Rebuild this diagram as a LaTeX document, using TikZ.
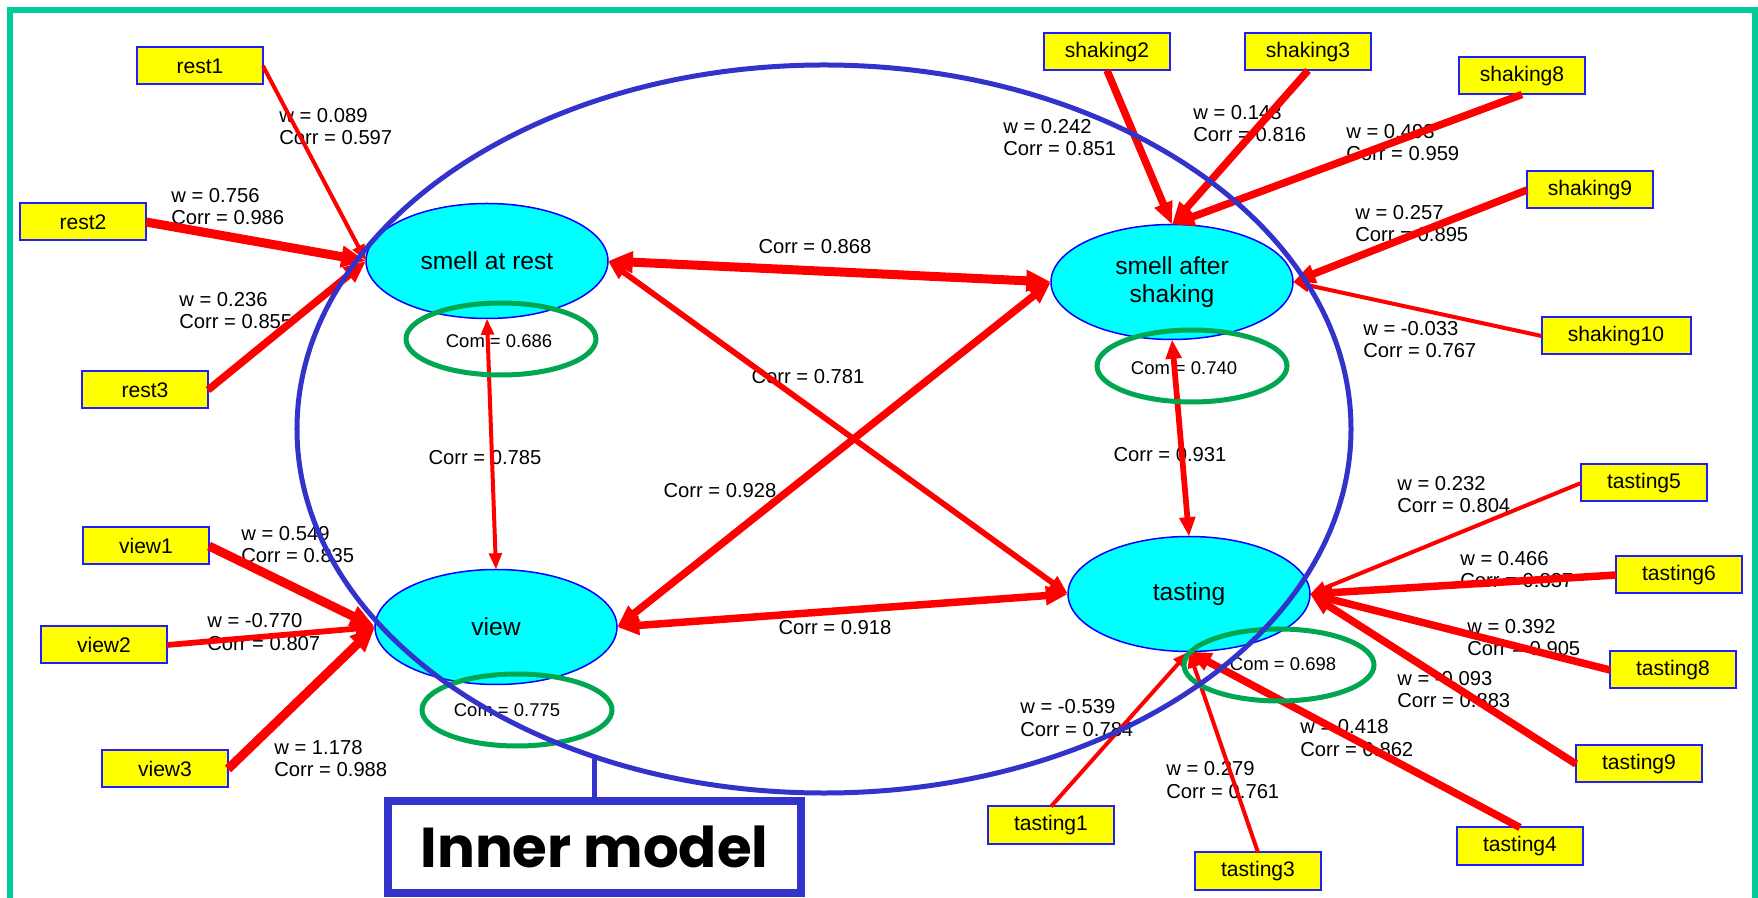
\documentclass[tikz,border=0pt]{standalone}
\usepackage{fontspec}
\setmainfont{Liberation Sans}
\newfontfamily\handfont{Poppins}
\usetikzlibrary{arrows.meta,shapes.geometric}
\definecolor{framegreen}{RGB}{0,204,153}
\definecolor{ringgreen}{RGB}{0,166,80}
\definecolor{modelblue}{RGB}{51,51,204}
\definecolor{boxblue}{RGB}{30,30,255}
\definecolor{lvcyan}{RGB}{0,255,255}
\definecolor{mvyellow}{RGB}{255,255,0}

\begin{document}
\begin{tikzpicture}[x=0.2mm,y=-0.2mm,>={Triangle[length=1.9mm 1.7,width=1.2mm 1.6]},
  mv/.style={draw=boxblue,line width=0.4mm,fill=mvyellow,minimum width=25.2mm,minimum height=7.4mm,
    inner sep=0pt,outer sep=0pt,font=\fontsize{12}{14}\selectfont},
  lv/.style={ellipse,draw=blue,line width=0.3mm,fill=lvcyan,minimum width=48.4mm,minimum height=23mm,
    inner sep=0pt,outer sep=0pt,align=center,font=\fontsize{14}{16}\selectfont},
  wlab/.style={align=left,anchor=west,inner sep=0pt,font=\fontsize{11.5}{13}\selectfont},
  clab/.style={inner sep=0pt,font=\fontsize{11.5}{13}\selectfont},
  comlab/.style={inner sep=0pt,font=\fontsize{10.5}{12}\selectfont},
  ring/.style={ellipse,draw=ringgreen,line width=1mm,minimum width=38mm,minimum height=14.4mm,inner sep=0pt},
  wt1/.style={red,line width=0.8mm},
  wt2/.style={red,line width=1.15mm},
  wt3/.style={red,line width=1.5mm},
  wt4/.style={red,line width=1.8mm}]
  \clip (0,0) rectangle (1758,898);
  \draw[framegreen,line width=1.1mm] (10,10) rectangle (1755,940);

  \node[wlab] (lrest1) at (279,126.5) {w = 0.089\\Corr = 0.597};
  \node[wlab] (lrest2) at (171,206.5) {w = 0.756\\Corr = 0.986};
  \node[wlab] (lrest3) at (179,310.5) {w = 0.236\\Corr = 0.855};
  \node[wlab] (lview1) at (241,544.5) {w = 0.549\\Corr = 0.835};
  \node[wlab] (lview2) at (207,632) {w = -0.770\\Corr = 0.807};
  \node[wlab] (lview3) at (274,758.5) {w = 1.178\\Corr = 0.988};
  \node[wlab] (lshak2) at (1003,137.5) {w = 0.242\\Corr = 0.851};
  \node[wlab] (lshak3) at (1193,123.5) {w = 0.143\\Corr = 0.816};
  \node[wlab] (lshak8) at (1346,142.5) {w = 0.493\\Corr = 0.959};
  \node[wlab] (lshak9) at (1355,223.5) {w = 0.257\\Corr = 0.895};
  \node[wlab] (lshak10) at (1363,339.5) {w = -0.033\\Corr = 0.767};
  \node[wlab] (ltast5) at (1397,494.5) {w = 0.232\\Corr = 0.804};
  \node[wlab] (ltast6) at (1460,569.5) {w = 0.466\\Corr = 0.837};
  \node[wlab] (ltast8) at (1467,637.5) {w = 0.392\\Corr = 0.905};
  \node[wlab] (ltast9) at (1397,689.5) {w = -0.093\\Corr = 0.883};
  \node[wlab] (ltast4) at (1300,738) {w = 0.418\\Corr = 0.862};
  \node[wlab] (ltast3) at (1166,780) {w = 0.279\\Corr = 0.761};
  \node[wlab] (ltast1) at (1020,718) {w = -0.539\\Corr = 0.784};

  \node[clab] (c868) at (815,247) {Corr = 0.868};
  \node[clab] (c781) at (808,377) {Corr = 0.781};
  \node[clab] (c785) at (485,458) {Corr = 0.785};
  \node[clab] (c928) at (720,491) {Corr = 0.928};
  \node[clab] (c918) at (835,628) {Corr = 0.918};
  \node[clab] (c931) at (1170,455) {Corr = 0.931};
  \node[comlab] (com1) at (499,341) {Com = 0.686};
  \node[comlab] (com2) at (1184,368) {Com = 0.740};
  \node[comlab] (com3) at (507,710) {Com = 0.775};
  \node[comlab] (com4) at (1283,664) {Com = 0.698};

  \node[lv] (smell) at (487,261) {smell at rest};
  \node[lv] (shake) at (1172,282) {smell after\\shaking};
  \node[lv] (view) at (496,627) {view};
  \node[lv] (taste) at (1189,594) {tasting};

  \node[mv] (rest1) at (200,66) {rest1};
  \node[mv] (rest2) at (83,222) {rest2};
  \node[mv] (rest3) at (145,390) {rest3};
  \node[mv] (view1) at (146,546) {view1};
  \node[mv] (view2) at (104,645) {view2};
  \node[mv] (view3) at (165,769) {view3};
  \node[mv] (shak2) at (1107,52) {shaking2};
  \node[mv] (shak3) at (1308,52) {shaking3};
  \node[mv] (shak8) at (1522,76) {shaking8};
  \node[mv] (shak9) at (1590,190) {shaking9};
  \node[mv,minimum width=29.8mm] (shak10) at (1616,336) {shaking10};
  \node[mv] (tast5) at (1644,483) {tasting5};
  \node[mv] (tast6) at (1679,575) {tasting6};
  \node[mv] (tast8) at (1673,670) {tasting8};
  \node[mv] (tast9) at (1639,764) {tasting9};
  \node[mv] (tast4) at (1520,846) {tasting4};
  \node[mv] (tast3) at (1258,871) {tasting3};
  \node[mv] (tast1) at (1051,825) {tasting1};

  \draw[->,wt1] (rest1.east) -- (smell.west);
  \draw[->,wt4] (rest2.east) -- (smell.west);
  \draw[->,wt3] (rest3.east) -- (smell.west);
  \draw[->,wt4] (view1.east) -- (view.west);
  \draw[->,wt2] (view2.east) -- (view.west);
  \draw[->,wt4] (view3.east) -- (view.west);
  \draw[->,wt3] (shak2.south) -- (shake.north);
  \draw[->,wt3] (shak3.south) -- (shake.north);
  \draw[->,wt3] (shak8.south) -- (shake.north);
  \draw[->,wt3] (shak9.west) -- (shake.east);
  \draw[->,wt1] (shak10.west) -- (shake.east);
  \draw[->,wt1] (tast5.west) -- (taste.east);
  \draw[->,wt3] (tast6.west) -- (taste.east);
  \draw[->,wt3] (tast8.west) -- (taste.east);
  \draw[->,wt3] (tast9.west) -- (taste.east);
  \draw[->,wt3] (tast4.north) -- (taste.south);
  \draw[->,wt1] (tast3.north) -- (taste.south);
  \draw[->,wt1] (tast1.north) -- (taste.south);

  \draw[<->,wt4] (smell.east) -- (shake.west);
  \draw[<->,wt2] (smell.east) -- (taste.west);
  \draw[<->,wt1] (smell.south) -- (view.north);
  \draw[<->,wt3] (view.east) -- (shake.west);
  \draw[<->,wt3] (view.east) -- (taste.west);
  \draw[<->,wt2] (shake.south) -- (taste.north);

  \node[ring] (ring1) at (501,339) {};
  \node[ring] (ring2) at (1192,366) {};
  \node[ring] (ring3) at (517,710) {};
  \node[ring] (ring4) at (1279,665) {};

  \node[ellipse,draw=modelblue,line width=1mm,minimum width=210.8mm,minimum height=145.6mm,inner sep=0pt] (inner) at (824,429) {};
  \node[draw=modelblue,fill=white,line width=1.6mm,minimum width=82.6mm,minimum height=18.4mm,inner sep=0pt,
    font=\handfont\bfseries\fontsize{32}{36}\selectfont] (tag) at (594.5,847) {Inner model};
  \coordinate (foot) at (inner.235);
  \draw[modelblue,line width=1mm] (tag.north) -- (tag.north |- foot);
\end{tikzpicture}
\end{document}
